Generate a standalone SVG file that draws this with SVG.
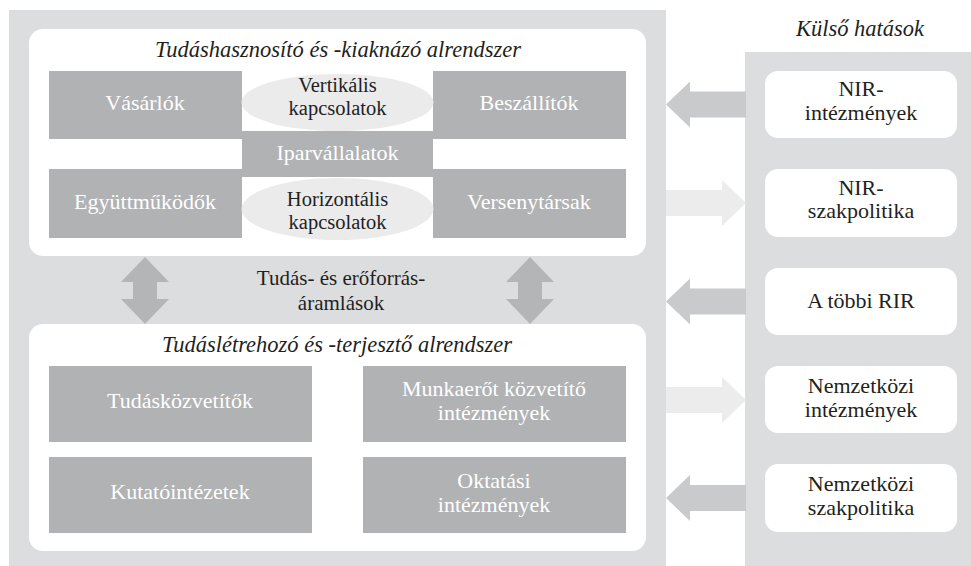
<svg xmlns="http://www.w3.org/2000/svg" width="971" height="566" viewBox="0 0 971 566" font-family="'Liberation Serif', 'DejaVu Serif', serif">
<style>
text{text-anchor:middle}
.w{fill:#ffffff;font-size:22px}
.d{fill:#231f20;font-size:22px}
.e{fill:#231f20;font-size:20.5px}
.t{fill:#231f20;font-size:22.5px;font-style:italic}
.box{fill:#b1b2b4}
.ell{fill:#ebebec}
.wb{fill:#ffffff}
.dark{fill:#c9cacc}
.light{fill:#ececed}
.va{fill:#b4b5b7}
</style>
<defs>
<path id="arrL" d="M0,0 L24,-23 L24,-13 L80,-13 L80,13 L24,13 L24,23 Z"/>
<path id="arrR" d="M80,0 L56,-23 L56,-13 L0,-13 L0,13 L56,13 L56,23 Z"/>
<path id="arrV" d="M0,0 L24,25 L12,25 L12,42 L24,42 L0,67 L-24,42 L-12,42 L-12,25 L-24,25 Z"/>
</defs>
<rect x="9" y="10" width="657" height="556" fill="#dcdddf"/>
<rect x="745" y="52" width="226" height="514" fill="#dcdddf"/>
<text class="t" x="860" y="36">Külső hatások</text>

<g id="upper">
<rect x="29" y="29" width="617" height="227" rx="14" class="wb"/>
<text class="t" x="338" y="57">Tudáshasznosító és -kiaknázó alrendszer</text>
</g>
<g id="iparvallalatok">
<rect x="242" y="131" width="191" height="46" class="box"/>
<text class="w" x="337.5" y="160">Iparvállalatok</text>
</g>
<g id="vasarlok">
<rect x="49" y="71" width="193" height="68" class="box"/>
<text class="w" x="145" y="110">Vásárlók</text>
</g>
<g id="beszallitok">
<rect x="433" y="71" width="193" height="68" class="box"/>
<text class="w" x="529" y="110">Beszállítók</text>
</g>
<g id="vertikalis">
<ellipse cx="337.5" cy="102.5" rx="96" ry="28.5" class="ell"/>
<text class="e" x="337.5" y="91.5">Vertikális</text>
<text class="e" x="337.5" y="114.5">kapcsolatok</text>
</g>
<g id="egyuttmukodok">
<rect x="49" y="169" width="193" height="69" class="box"/>
<text class="w" x="145" y="209">Együttműködők</text>
</g>
<g id="versenytarsak">
<rect x="433" y="169" width="193" height="69" class="box"/>
<text class="w" x="529" y="209">Versenytársak</text>
</g>
<g id="horizontalis">
<ellipse cx="337.5" cy="209" rx="96" ry="31" class="ell"/>
<text class="e" x="337.5" y="205.5">Horizontális</text>
<text class="e" x="337.5" y="228.5">kapcsolatok</text>
</g>

<g id="aramlasok">
<text class="d" x="341" y="285" style="font-size:21px">Tudás- és erőforrás-</text>
<text class="d" x="341" y="310" style="font-size:21px">áramlások</text>
</g>

<g id="lower">
<rect x="29" y="324" width="617" height="227" rx="14" class="wb"/>
<text class="t" x="337" y="352">Tudáslétrehozó és -terjesztő alrendszer</text>
</g>
<g id="tudaskozvetitok">
<rect x="49" y="366" width="263" height="76" class="box"/>
<text class="w" x="180" y="408">Tudásközvetítők</text>
</g>
<g id="kutatointezetek">
<rect x="49" y="457" width="263" height="76" class="box"/>
<text class="w" x="180" y="499">Kutatóintézetek</text>
</g>
<g id="munkaero">
<rect x="363" y="366" width="263" height="76" class="box"/>
<text class="w" x="494" y="396">Munkaerőt közvetítő</text>
<text class="w" x="494" y="420">intézmények</text>
</g>
<g id="oktatasi">
<rect x="363" y="457" width="263" height="76" class="box"/>
<text class="w" x="494" y="488">Oktatási</text>
<text class="w" x="494" y="512">intézmények</text>
</g>

<g id="nir-intezmenyek">
<rect x="765" y="71" width="192" height="67" rx="13" class="wb"/>
<text class="d" x="861" y="96">NIR-</text>
<text class="d" x="861" y="120">intézmények</text>
</g>
<g id="nir-szakpolitika">
<rect x="765" y="169" width="192" height="68" rx="13" class="wb"/>
<text class="d" x="861" y="195">NIR-</text>
<text class="d" x="861" y="218">szakpolitika</text>
</g>
<g id="tobbi-rir">
<rect x="765" y="268" width="192" height="67" rx="13" class="wb"/>
<text class="d" x="861" y="308">A többi RIR</text>
</g>
<g id="nemzetkozi-intezmenyek">
<rect x="765" y="366" width="192" height="67" rx="13" class="wb"/>
<text class="d" x="861" y="393">Nemzetközi</text>
<text class="d" x="861" y="417">intézmények</text>
</g>
<g id="nemzetkozi-szakpolitika">
<rect x="765" y="464" width="192" height="68" rx="13" class="wb"/>
<text class="d" x="861" y="491">Nemzetközi</text>
<text class="d" x="861" y="515">szakpolitika</text>
</g>

<g id="connectors">
<use href="#arrV" x="145" y="257" class="va"/>
<use href="#arrV" x="530" y="257" class="va"/>
<use href="#arrL" x="666" y="104.5" class="dark"/>
<use href="#arrR" x="666" y="203" class="light"/>
<use href="#arrL" x="666" y="301.5" class="dark"/>
<use href="#arrR" x="666" y="400" class="light"/>
<use href="#arrL" x="666" y="498" class="dark"/>
</g>
</svg>
